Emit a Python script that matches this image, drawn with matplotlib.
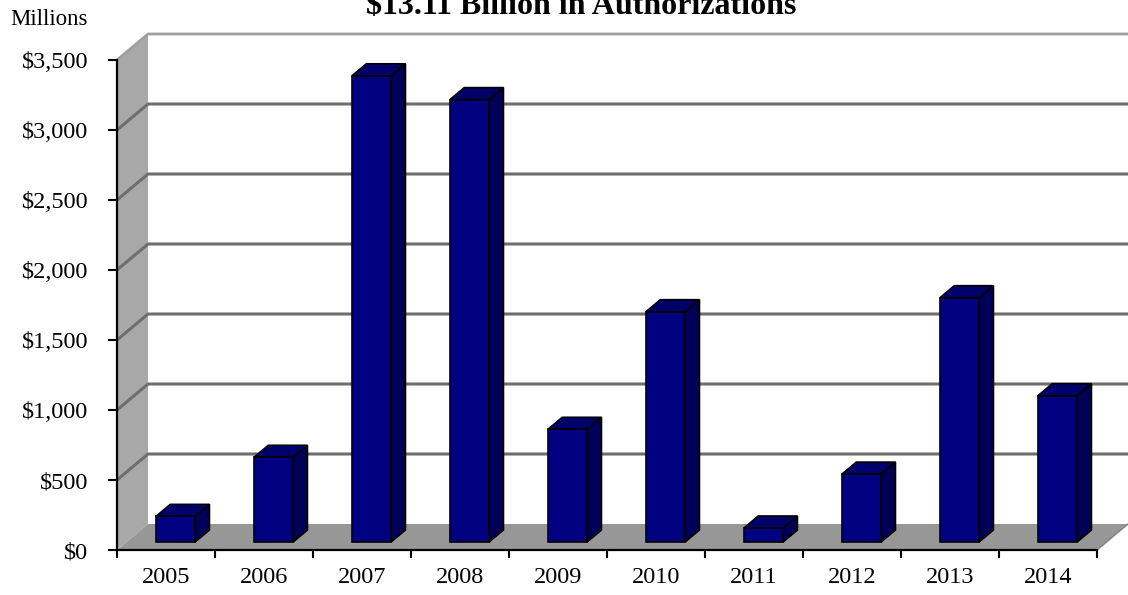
import matplotlib
matplotlib.use("Agg")
import matplotlib.pyplot as plt
from matplotlib.patches import Polygon

years = ["2005", "2006", "2007", "2008", "2009", "2010", "2011", "2012", "2013", "2014"]
authorizations = [183, 605, 3330, 3160, 805, 1645, 100, 485, 1745, 1045]  # $ millions
y_ticks = [0, 500, 1000, 1500, 2000, 2500, 3000, 3500]
y_labels = ["$0", "$500", "$1,000", "$1,500", "$2,000", "$2,500", "$3,000", "$3,500"]

plt.rcParams["font.family"] = ["Liberation Serif", "DejaVu Serif"]

W, H = 1128, 595
fig = plt.figure(figsize=(W / 100, H / 100), dpi=100)
# front plane of the 3-D box, in pixels
x0, x1, y_top, y_bot = 117, 1097, 60, 550
ax = fig.add_axes([x0 / W, 1 - y_bot / H, (x1 - x0) / W, (y_bot - y_top) / H])
n = len(years)
ymax = 3500
ax.set_xlim(0, n)
ax.set_ylim(0, ymax)
ax.patch.set_alpha(0)

# depth vector (data units) for the floor / walls
px_x = n / (x1 - x0)
px_y = ymax / (y_bot - y_top)
dx, dy = 31 * px_x, 26 * px_y

wall_c = "#a8a8a8"
floor_c = "#979797"
grid_c = "#6e6e6e"

# left wall
ax.add_patch(Polygon([(0, 0), (0, ymax), (dx, ymax + dy), (dx, dy)],
                     closed=True, fc=wall_c, ec="none", clip_on=False, zorder=1))
# floor
ax.add_patch(Polygon([(0, 0), (n, 0), (n + dx, dy), (dx, dy)],
                     closed=True, fc=floor_c, ec="none", clip_on=False, zorder=1))

# gridlines on back wall and left wall
for v in y_ticks[1:-1]:
    ax.plot([0, dx, n + dx], [v, v + dy, v + dy], color=grid_c, lw=2.2,
            clip_on=False, zorder=2, solid_capstyle="butt")
ax.plot([0, dx, n + dx], [ymax, ymax + dy, ymax + dy], color="#a0a0a0", lw=2,
        clip_on=False, zorder=2, solid_capstyle="butt")
ax.plot([n, n + dx], [0, dy], color="#808080", lw=1, clip_on=False, zorder=2)

# 3-D columns
front_f = 8 / 26      # front face sits this far into the depth
depth_f = 12 / 26     # column depth as a fraction of the full depth
bw = 0.4
bdx, bdy = depth_f * dx, depth_f * dy
for i, v in enumerate(authorizations):
    cx = i + 0.5 + front_f * dx
    l, r = cx - bw / 2, cx + bw / 2
    b = front_f * dy
    t = v + b
    ax.add_patch(Polygon([(r, b), (r + bdx, b + bdy), (r + bdx, t + bdy), (r, t)],
                         closed=True, fc="#000058", ec="black", lw=1.2, zorder=3, clip_on=False))
    ax.add_patch(Polygon([(l, t), (r, t), (r + bdx, t + bdy), (l + bdx, t + bdy)],
                         closed=True, fc="#00006c", ec="black", lw=1.2, zorder=3, clip_on=False))
    ax.add_patch(Polygon([(l, b), (r, b), (r, t), (l, t)],
                         closed=True, fc="#000080", ec="black", lw=1.2, zorder=4, clip_on=False))

for s in ["top", "right"]:
    ax.spines[s].set_visible(False)
for s in ["left", "bottom"]:
    ax.spines[s].set_linewidth(1.6)
    ax.spines[s].set_zorder(5)

ax.set_yticks(y_ticks)
ax.set_yticklabels(y_labels, fontsize=17.5)
ax.set_xticks(range(n + 1))
ax.set_xticklabels([])
ax.set_xticks([i + 0.5 for i in range(n)], minor=True)
ax.set_xticklabels(years, minor=True, fontsize=17.5)
ax.tick_params(axis="y", length=6.5, width=1.5, pad=14)
ax.tick_params(axis="x", which="major", length=6, width=1.5)
ax.tick_params(axis="x", which="minor", length=0, pad=12)

fig.text(10 / W, 1 - 25 / H, "Millions", fontsize=16.5, ha="left", va="baseline")
fig.text(581 / W, 1 - 14 / H, "$13.11 Billion in Authorizations", fontsize=23,
         fontweight="bold", ha="center", va="baseline")

fig.savefig("out.png", dpi=100)
